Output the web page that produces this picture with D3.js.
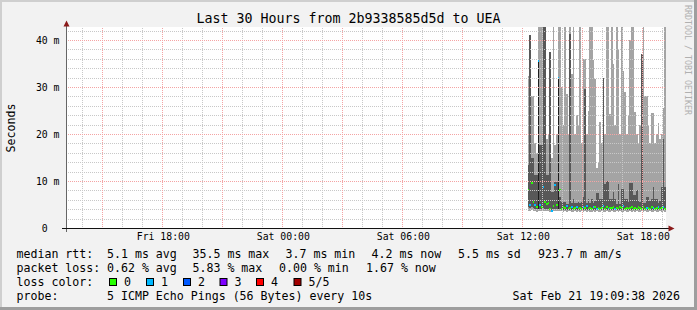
<!DOCTYPE html>
<html>
<head>
<meta charset="utf-8">
<script src="https://cdn.jsdelivr.net/npm/d3@7/dist/d3.min.js"></script>
<style>
  body { margin: 0; background: #fff; }
  text { font-family: "DejaVu Sans Mono", monospace; fill: #000; }
  .pre { white-space: pre; }
</style>
</head>
<body>
<svg id="chart" width="697" height="310"></svg>
<script>
(function(){
  //five sorted pings per 5 minute sample (ms), starting Sat 12:15
  const pingMin = [3.7,3.6,3.8,3.7,3.6,3.5,3.7,3.6,3.6,3.7, 3.6,3.6,3.7,3.5,3.4,3.6,3.7,3.6,3.7,3.6,
    3.6,3.5,3.6,3.5,3.6,3.6,3.5,3.5,3.6,3.5, 3.6,3.5,3.6,3.5,3.6,3.5,3.6,3.5,3.5,3.6,
    3.5,3.6,3.5,3.5,3.6,3.5,3.5,3.6,3.5,3.5, 3.6,3.5,3.5,3.6,3.5,3.6,3.5,3.5,3.6,3.5,
    3.5,3.6,3.5,3.6,3.5,3.6,3.5,3.5,3.6,3.5, 3.6,3.5,3.5,3.6,3.5,3.5,3.6,3.5,3.5,3.6, 3.5,3.6,3.5];
  const pingLow = [4.4,4.2,4.5,4.3,4.1,4.0,3.9,4.0,4.1,4.2, 4.0,4.0,4.1,3.8,3.6,4.0,4.1,4.0,3.9,4.1,
    3.9,3.8,3.9,3.8,3.9,3.9,3.8,3.8,3.9,3.8, 3.9,3.8,3.9,3.8,3.9,3.8,3.9,3.8,3.8,3.9,
    3.8,3.9,3.8,3.8,3.9,3.8,3.8,3.9,3.8,3.8, 3.9,3.8,3.8,3.9,3.8,3.9,3.8,3.8,3.9,3.8,
    3.8,3.9,3.8,3.9,3.8,3.9,3.8,3.8,3.9,3.8, 3.9,3.8,3.8,3.9,3.8,3.8,3.9,3.8,3.8,3.9, 3.8,3.9,3.8];
  const median = [8.0,5.0,9.5,5.5,4.9,4.5,35.5,5.0,4.5,8.7, 5.5,5.2,5.3,4.0,3.7,4.6,9.1,5.0,32.0,8.0,
    4.1,4.4,4.2,4.6,4.1,4.3,4.5,4.0,4.2,4.4, 4.1,4.3,4.0,4.5,4.2,4.6,4.1,4.3,4.0,4.4,
    4.5,4.1,4.3,4.0,4.2,4.6,4.1,4.4,4.0,4.3, 4.2,4.5,4.0,4.3,4.1,4.4,4.2,4.6,4.1,4.3,
    4.0,4.2,4.4,4.1,4.3,4.0,4.5,4.2,4.1,4.4, 4.0,4.3,4.2,4.1,4.4,4.3,4.0,4.2,4.5,4.1, 4.3,4.4,4.1];
  const pingHigh = [13.4,41,15,15,11.3,11.3,35.5,17.7,17.7,50, 50,11.3,11.3,37.4,7.7,7.7,9.8,9.8,32,6.7,
    5.5,5.5,5.5,5.2,5.2,41.3,5.4,6.2,5.4,5.3, 5.5,5.4,5.5,6.7,29.6,5.4,6.2,5.4,6.2,5.4,
    5.8,7.5,7.5,6.2,6.2,32,9.3,10,10,6.2, 6.2,7.7,6.2,5.2,9.3,5.2,8.4,8.4,6.2,6.2,
    5.5,9.6,9.6,7.0,7.0,8.0,5.8,5.5,37,5.4, 5.4,6.7,6.7,5.8,6.2,8.7,6.2,6.2,5.4,5.8, 8.7,19,8.7];
  const pingMax = [32.4,41,28.1,28.1,18,16,50,50,50,50, 50,19,20,37.5,15,50,17.7,20,50,50,
    30,22,50,28.5,20,50,32.8,50,20,24, 22,50,18,36,36,20,25,50,50,35.7,
    31.7,12.8,14,22.5,18,32,20,50,50,24.3, 50,35,22,50,38,20,50,33.5,28.9,20,
    24,40,50,50,24.7,20,18,22,37,50, 28,28,22,18,24.5,24.5,18,20,22.3,19, 20,25.5,50];
  const lossCount = [0,1,0,0,1,0,1,1,0,1, 0,0,0,0,1,0,1,0,1,0,
    0,0,0,1,0,0,1,0,0,1, 0,0,0,1,0,1,0,0,0,1,
    0,1,0,0,0,1,0,0,1,0, 0,0,1,0,0,0,0,1,0,0,
    0,0,0,0,0,0,0,0,0,0, 0,1,0,0,0,1,0,0,1,0, 0,1,0];

  const yTicks = [0, 10, 20, 30, 40];
  const lossLabels = ['0', '1', '2', '3', '4', '5/5'];
  const lossColors = ['#26ff00', '#00b8ff', '#0059ff', '#7e00ff', '#ff0000', '#a10000'];
  const rttStats = ['5.1 ms avg', '35.5 ms max', '3.7 ms min', '4.2 ms now', '5.5 ms sd', '923.7 m am/s'];
  const lossStats = ['0.62 % avg', '5.83 % max', '0.00 % min', '1.67 % now'];

  const endTime = new Date(2026, 1, 21, 19, 9, 38);
  const startTime = new Date(endTime.getTime() - 30 * 3600 * 1000);
  const firstSample = new Date(2026, 1, 21, 12, 15, 0);
  const step = 5 * 60 * 1000;

  const left = 66, right = 666, top = 27, bottom = 228;

  const svg = d3.select('#chart');
  const defs = svg.append('defs');

  //dotted grid patterns (one pixel on, one off)
  function dotPattern(id, colour, horizontal) {
    const p = defs.append('pattern').attr('id', id).attr('patternUnits', 'userSpaceOnUse')
      .attr('width', horizontal ? 2 : 1).attr('height', horizontal ? 1 : 2);
    p.append('rect').attr('width', 1).attr('height', 1).attr('fill', colour);
  }
  dotPattern('minorH', '#c8c8c8', true);
  dotPattern('minorV', '#c8c8c8', false);
  dotPattern('majorH', '#f4a4a4', true);
  dotPattern('majorV', '#f4a4a4', false);

  //background and shaded frame
  svg.append('rect').attr('width', 697).attr('height', 310).attr('fill', '#f2f2f2');
  svg.append('rect').attr('x', 0).attr('y', 0).attr('width', 697).attr('height', 2).attr('fill', '#cfcfcf');
  svg.append('rect').attr('x', 0).attr('y', 0).attr('width', 2).attr('height', 310).attr('fill', '#cfcfcf');
  svg.append('rect').attr('x', 0).attr('y', 307).attr('width', 697).attr('height', 3).attr('fill', '#9e9e9e');
  svg.append('rect').attr('x', 694).attr('y', 0).attr('width', 3).attr('height', 310).attr('fill', '#9e9e9e');

  const x = d3.scaleTime().domain([startTime, endTime]).range([left, right]);
  const y = d3.scaleLinear().domain([0, (bottom - top) / 4.7]).range([bottom, top]);

  svg.append('rect').attr('x', left).attr('y', top)
    .attr('width', right - left).attr('height', bottom - top).attr('fill', '#fff');

  defs.append('clipPath').attr('id', 'plot')
    .append('rect').attr('x', left).attr('y', top).attr('width', right - left).attr('height', bottom - top);

  const samples = median.map((m, i) => {
    const t = new Date(firstSample.getTime() + i * step);
    const t2 = new Date(t.getTime() + step);
    return {x0: Math.round(x(t)), x1: Math.round(x(t2)), min: pingMin[i], low: pingLow[i],
      med: m, high: pingHigh[i], max: pingMax[i], loss: lossCount[i]};
  });

  const g = svg.append('g').attr('clip-path', 'url(#plot)').attr('shape-rendering', 'crispEdges');

  //outer smoke band
  g.selectAll('.smoke1').data(samples).enter().append('rect')
    .attr('x', d => d.x0).attr('width', d => d.x1 - d.x0)
    .attr('y', d => y(d.max)).attr('height', d => y(d.min) - y(d.max))
    .attr('fill', '#a4a4a4');
  //inner smoke band
  g.selectAll('.smoke2').data(samples).enter().append('rect')
    .attr('x', d => d.x0).attr('width', d => d.x1 - d.x0)
    .attr('y', d => y(d.high)).attr('height', d => y(d.low) - y(d.high))
    .attr('fill', '#585858');
  //lossy samples where the inner band collapses onto the median
  g.selectAll('.smoke3').data(samples.filter(d => d.loss > 0 && d.high === d.med)).enter().append('rect')
    .attr('x', d => d.x0).attr('width', d => d.x1 - d.x0)
    .attr('y', d => y(d.med)).attr('height', d => y(d.low) - y(d.med))
    .attr('fill', '#1e1e1e');

  //grid on top of the graph
  const grid = svg.append('g').attr('shape-rendering', 'crispEdges');
  const hours = d3.timeHour.range(startTime, endTime);
  const minorY = d3.range(2, 43, 2).filter(v => v % 10 !== 0);
  function hLines(data, fill) {
    grid.selectAll(null).data(data).enter().append('rect')
      .attr('x', left + 1).attr('width', right - left - 1)
      .attr('y', d => Math.round(y(d))).attr('height', 1)
      .attr('fill', fill);
  }
  function vLines(data, fill) {
    grid.selectAll(null).data(data).enter().append('rect')
      .attr('x', d => Math.floor(x(d))).attr('width', 1)
      .attr('y', top).attr('height', bottom - top)
      .attr('fill', fill);
  }
  hLines(minorY, 'url(#minorH)');
  vLines(hours.filter(h => h.getHours() % 3 !== 0), 'url(#minorV)');
  hLines(yTicks.filter(v => v > 0), 'url(#majorH)');
  vLines(hours.filter(h => h.getHours() % 3 === 0), 'url(#majorV)');

  //median marks coloured by loss
  g.selectAll('.med').data(samples).enter().append('rect')
    .attr('x', d => d.x0).attr('width', d => d.x1 - d.x0)
    .attr('y', d => Math.round(y(d.med)) - 1).attr('height', 2)
    .attr('fill', d => lossColors[d.loss]);

  //axes labels via d3 axes
  const yAxis = svg.append('g').attr('transform', 'translate(' + left + ',0)')
    .call(d3.axisLeft(y).tickValues(yTicks).tickSize(0).tickPadding(6.5)
      .tickFormat(d => d === 0 ? '0  ' : d + ' m'));
  yAxis.select('.domain').remove();
  yAxis.selectAll('text').attr('class', 'pre').style('font-family', '"DejaVu Sans Mono", monospace')
    .style('font-size', '9.8px').attr('fill', '#000');

  const sixHours = hours.filter(h => h.getHours() % 6 === 0);
  const xAxis = svg.append('g').attr('transform', 'translate(0,' + bottom + ')')
    .call(d3.axisBottom(x).tickValues(sixHours).tickSize(0).tickPadding(5.5)
      .tickFormat(d3.timeFormat('%a %H:%M')));
  xAxis.select('.domain').remove();
  xAxis.selectAll('text').style('font-family', '"DejaVu Sans Mono", monospace')
    .style('font-size', '9.8px').attr('fill', '#000');

  //axis lines and arrows
  svg.append('line').attr('x1', left + 0.5).attr('x2', left + 0.5).attr('y1', 232).attr('y2', 24)
    .attr('stroke', '#666').attr('shape-rendering', 'crispEdges');
  svg.append('line').attr('x1', 62).attr('x2', 670).attr('y1', bottom + 0.5).attr('y2', bottom + 0.5)
    .attr('stroke', '#111').attr('shape-rendering', 'crispEdges');
  svg.append('path').attr('d', 'M63.5,26.5L69.5,26.5L66.5,20.5Z').attr('fill', '#8b1a1a');
  svg.append('path').attr('d', 'M668.5,225.5L668.5,231.5L674.5,228.5Z').attr('fill', '#8b1a1a');

  //titles
  svg.append('text').attr('x', 348.5).attr('y', 23).attr('text-anchor', 'middle')
    .style('font-size', '13.3px').text('Last 30 Hours from 2b9338585d5d to UEA');
  svg.append('text').attr('transform', 'translate(14.5,128) rotate(-90)').attr('text-anchor', 'middle')
    .style('font-size', '11.6px').text('Seconds');
  svg.append('text').attr('transform', 'translate(685,5) rotate(90)')
    .style('font-size', '8.3px').style('fill', '#b0b0b0').text('RRDTOOL / TOBI OETIKER');

  //legend
  const legend = svg.append('g').style('font-size', '11.6px');
  const rows = [258, 272, 286, 300];
  const rowLabels = ['median rtt:', 'packet loss:', 'loss color:', 'probe:'];
  legend.selectAll('.rl').data(rowLabels).enter().append('text')
    .attr('x', 16.5).attr('y', (d, i) => rows[i]).text(d => d);

  const rttX = [107, 192.5, 285.5, 371.5, 458, 538];
  legend.selectAll('.rtt').data(rttStats).enter().append('text')
    .attr('x', (d, i) => rttX[i]).attr('y', rows[0]).text(d => d);
  const lossX = [107, 192.5, 279, 366];
  legend.selectAll('.ls').data(lossStats).enter().append('text')
    .attr('x', (d, i) => lossX[i]).attr('y', rows[1]).text(d => d);

  const boxX = [109, 146, 183, 219.5, 256, 293.5];
  legend.selectAll('.lb').data(lossColors).enter().append('rect')
    .attr('x', (d, i) => boxX[i] + 0.5).attr('y', 278.5).attr('width', 7).attr('height', 7)
    .attr('fill', d => d).attr('stroke', '#000').attr('stroke-width', 1);
  legend.selectAll('.lt').data(lossLabels).enter().append('text')
    .attr('x', (d, i) => boxX[i] + 15).attr('y', rows[2]).text(d => d);

  legend.append('text').attr('x', 107).attr('y', rows[3]).text('5 ICMP Echo Pings (56 Bytes) every 10s');
  legend.append('text').attr('x', 680).attr('y', rows[3]).attr('text-anchor', 'end')
    .text(d3.timeFormat('%a %b %d %H:%M:%S %Y')(endTime));
})();
</script>
</body>
</html>
